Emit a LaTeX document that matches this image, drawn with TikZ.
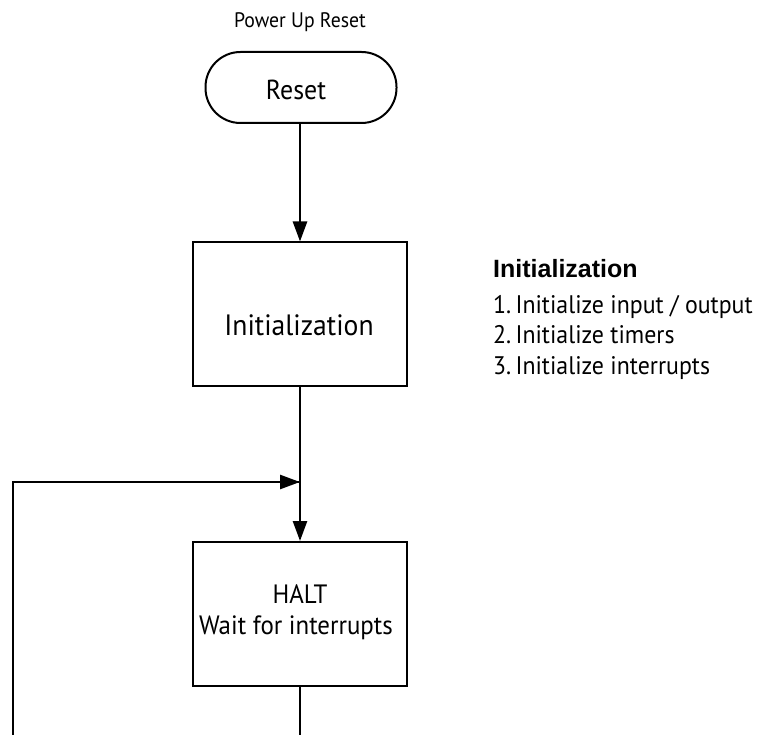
\documentclass[tikz,border=0pt]{standalone}
\usepackage{fontspec}
\setmainfont{PT Sans}[FakeStretch=0.94]
\newfontfamily\headfont{Liberation Sans}
\usetikzlibrary{arrows.meta,positioning}

\begin{document}
\begin{tikzpicture}[
    x=1pt, y=-1pt,
    term/.style={rectangle, rounded corners=35pt, draw, line width=2pt, minimum width=191pt, minimum height=71pt},
    procbox/.style={rectangle, draw, line width=2pt, minimum width=214pt, minimum height=143pt},
    boxtxt/.style={anchor=base, inner sep=0pt},
    flow/.style={-{Triangle[length=20pt,width=14pt]}, line width=2.6pt},
    wire/.style={line width=2.6pt},
    lbl/.style={font=\fontsize{25.4}{28}\selectfont, anchor=base west, inner sep=0pt},
    head/.style={font=\headfont\bfseries\fontsize{25}{28}\selectfont, anchor=base west, inner sep=0pt}
]
\useasboundingbox (0,0) rectangle (760,735);
\clip (0,0) rectangle (760,735);
% ----- main column -----
\node[boxtxt, font=\fontsize{21}{24}\selectfont] (pwr) at (300,28) {Power Up Reset};
\node[term] (reset) at (301,87.5) {};
\node[boxtxt, font=\fontsize{27.5}{30}\selectfont] (resetl) at (296,100) {Reset};
\node[procbox] (init) at (300,314) {};
\node[boxtxt, font=\fontsize{29.4}{32}\selectfont] (initl) at (299,335) {Initialization};
\node[procbox, minimum height=144pt] (halt) at (300,614) {};
\node[boxtxt, font=\fontsize{26.5}{30}\selectfont] (haltl) at (300,603) {HALT};
\node[boxtxt, font=\fontsize{26.5}{30}\selectfont] (waitl) at (296,634) {Wait for interrupts};
\coordinate (join) at (300,482);
\coordinate (lpb) at (13,745);
\draw[flow] (reset.south -| init) -- (init.north);
\draw[flow] (init.south) -- (halt.north);
% ----- loop back -----
\draw[wire] (halt.south) |- (lpb) |- ([xshift=1pt]join);
\draw[flow] (lpb |- join) -- (join);
% ----- notes -----
\node[head] (ihead) at (493,277) {Initialization};
\node[lbl] (s1) at (493,313) {1.\,Initialize input / output};
\node[lbl] (s2) at (493,343) {2.\,Initialize timers};
\node[lbl] (s3) at (493,374) {3.\,Initialize interrupts};
\end{tikzpicture}
\end{document}
